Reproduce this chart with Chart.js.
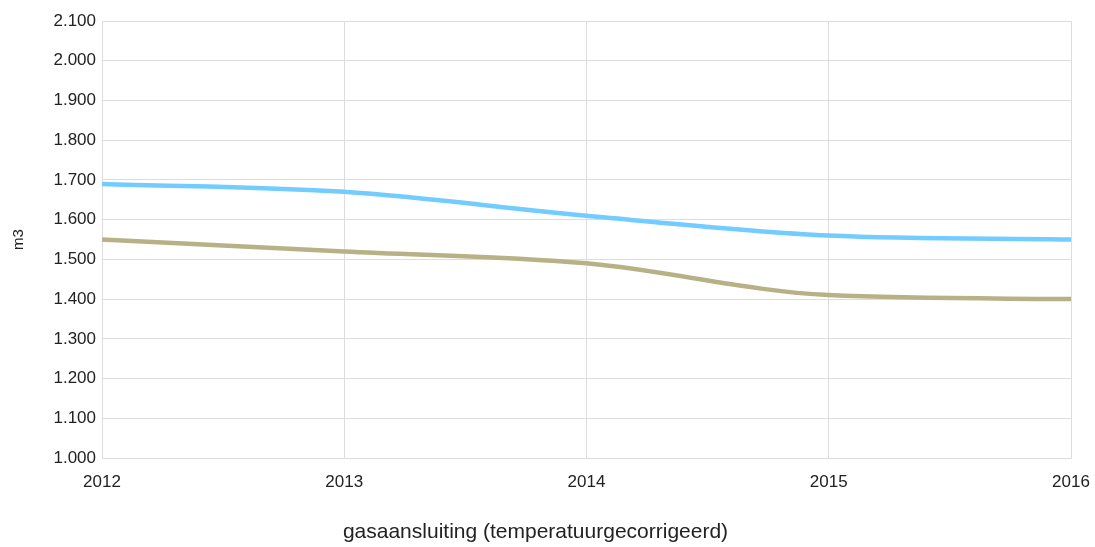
<!DOCTYPE html>
<html>
<head>
<meta charset="utf-8">
<script src="https://cdn.jsdelivr.net/npm/chart.js@4/dist/chart.umd.min.js"></script>
<style>
html,body{margin:0;padding:0;background:#fff;}
#wrap{width:1095px;height:547px;}
</style>
</head>
<body>
<div id="wrap"><canvas id="c" width="1095" height="547"></canvas></div>
<script>
const categories = ['2012', '2013', '2014', '2015', '2016'];
const seriesBlue = [1690, 1670, 1610, 1560, 1550];
const seriesKhaki = [1550, 1520, 1490, 1410, 1400];
const yTicks = [1000, 1100, 1200, 1300, 1400, 1500, 1600, 1700, 1800, 1900, 2000, 2100];

const fmt = v => {
  const s = String(Math.round(v));
  return s.length > 3 ? s.slice(0, s.length - 3) + '.' + s.slice(-3) : s;
};

const FONT = 'Liberation Sans, Arial, sans-serif';

new Chart(document.getElementById('c'), {
  type: 'line',
  data: {
    labels: categories,
    datasets: [
      { data: seriesBlue, borderColor: 'rgb(114,204,255)', borderWidth: 4.5, pointRadius: 0, cubicInterpolationMode: 'monotone', fill: false },
      { data: seriesKhaki, borderColor: 'rgb(184,177,134)', borderWidth: 4.5, pointRadius: 0, cubicInterpolationMode: 'monotone', fill: false }
    ]
  },
  options: {
    responsive: false,
    animation: false,
    layout: { padding: { top: 21, right: 24, left: 0, bottom: 0 } },
    plugins: {
      legend: { display: false },
      tooltip: { enabled: false },
      title: {
        display: true, position: 'bottom', align: 'center',
        text: 'gasaansluiting (temperatuurgecorrigeerd)', color: '#222',
        font: { family: FONT, size: 21, weight: 'normal' }, padding: { top: 0, bottom: 2 }
      }
    },
    scales: {
      x: {
        type: 'category',
        offset: false,
        grid: { color: '#dddddd', lineWidth: 1, drawTicks: false },
        border: { color: '#dddddd' },
        ticks: { color: '#222', font: { family: FONT, size: 17 }, padding: 14, maxRotation: 0, autoSkip: false },
        afterFit: s => { s.height = 61.8; s.paddingLeft = 0; s.paddingRight = 0; }
      },
      y: {
        min: 1000, max: 2100,
        grid: { color: '#dddddd', lineWidth: 1, drawTicks: false },
        border: { color: '#dddddd' },
        afterBuildTicks: s => { s.ticks = yTicks.map(v => ({ value: v })); },
        ticks: { color: '#222', font: { family: FONT, size: 17 }, padding: 6, callback: v => fmt(v) },
        title: { display: true, text: 'm3', color: '#222', font: { family: FONT, size: 15 }, padding: { top: 10, bottom: 0 } },
        afterFit: s => { s.width = 102; s.paddingTop = 0; s.paddingBottom = 0; }
      }
    }
  }
});
</script>
</body>
</html>
